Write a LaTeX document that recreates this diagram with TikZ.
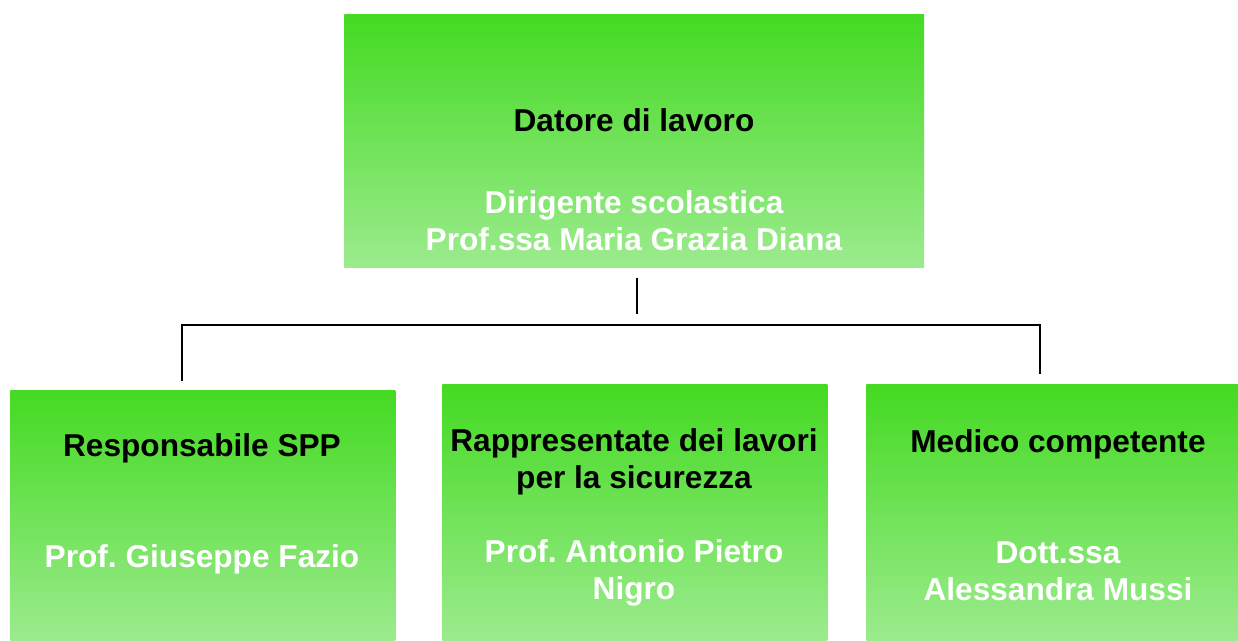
\documentclass[tikz,border=0pt]{standalone}
\usepackage{fontspec}
\setmainfont{Liberation Sans}
\usetikzlibrary{positioning}
\definecolor{topgreen}{RGB}{68,218,34}
\definecolor{lowgreen}{RGB}{156,235,142}
\frenchspacing

\begin{document}
\begin{tikzpicture}[x=0.02cm,y=-0.02cm,
  box/.style={rectangle,inner sep=0pt,anchor=north west,top color=topgreen,bottom color=lowgreen},
  role/.style={font=\bfseries\fontsize{18}{21}\selectfont,align=center,text=black},
  person/.style={font=\bfseries\fontsize{18}{21}\selectfont,align=center,text=white},
  link/.style={line width=1.15pt}]
 \clip (0,0) rectangle (1238,641);
 \node[box,minimum width=11.6cm,minimum height=5.06cm] (boss) at (344,14) {};
 \node[box,minimum width=7.7cm,minimum height=5.02cm] (spp) at (10,390) {};
 \node[box,minimum width=7.7cm,minimum height=5.14cm] (rls) at (442,384) {};
 \node[box,minimum width=7.7cm,minimum height=5.14cm] (medico) at (866,384) {};
 \node[role] (bossrole) at (634,120) {Datore di lavoro};
 \node[person] (bossname) at (634,221) {Dirigente scolastica\\Prof.ssa Maria Grazia Diana};
 \node[role] (spprole) at (202,448) {Responsabile SPP};
 \node[person] (sppname) at (202,559) {Prof. Giuseppe Fazio};
 \node[role] (rlsrole) at (634,462) {Rappresentate dei lavori\\per la sicurezza};
 \node[person] (rlsname) at (634,573) {Prof. Antonio Pietro\\Nigro};
 \node[role] (medicorole) at (1058,444) {Medico competente};
 \node[person] (mediconame) at (1058,571) {Dott.ssa\\Alessandra Mussi};
 \coordinate (spptop) at (182,381);
 \coordinate (medicotop) at (1040,374);
 \draw[link,shorten <=0.2cm] ([xshift=0.06cm]boss.south) -- ++(0,46);
 \draw[link] (spptop) -- ++(0,-56) -| (medicotop);
\end{tikzpicture}
\end{document}
